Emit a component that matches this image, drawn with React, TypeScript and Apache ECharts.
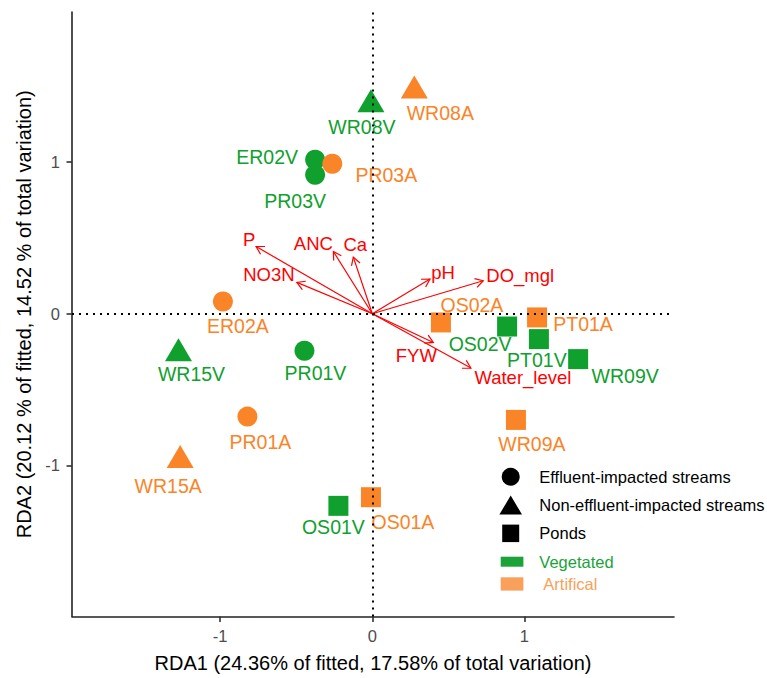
import React, { useEffect, useRef } from "react";
import * as echarts from "echarts";

// ---- Site scores ----
const sites = ["WR08V", "WR08A", "ER02V", "PR03V", "PR03A", "ER02A", "WR15V", "PR01V", "OS02A", "OS02V", "PT01A", "PT01V", "WR09V", "PR01A", "WR15A", "OS01V", "OS01A", "WR09A"];
const rda1 = [-0.009, 0.276, -0.376, -0.376, -0.263, -0.982, -1.274, -0.446, 0.451, 0.886, 1.083, 1.095, 1.353, -0.821, -1.263, -0.223, -0.009, 0.944];
const rda2 = [1.406, 1.496, 1.017, 0.917, 0.99, 0.081, -0.238, -0.244, -0.057, -0.084, -0.024, -0.167, -0.299, -0.678, -0.942, -1.267, -1.21, -0.7];
const habitat = [
  "Non-effluent-impacted streams", "Non-effluent-impacted streams", "Effluent-impacted streams", "Effluent-impacted streams",
  "Effluent-impacted streams", "Effluent-impacted streams", "Non-effluent-impacted streams", "Effluent-impacted streams",
  "Ponds", "Ponds", "Ponds", "Ponds", "Ponds", "Effluent-impacted streams", "Non-effluent-impacted streams",
  "Ponds", "Ponds", "Ponds",
];
const treatment = ["Vegetated", "Artifical", "Vegetated", "Vegetated", "Artifical", "Artifical", "Vegetated", "Vegetated", "Artifical", "Vegetated", "Artifical", "Vegetated", "Vegetated", "Artifical", "Artifical", "Vegetated", "Artifical", "Artifical"];

// ---- Environmental vectors ----
const envVars = ["P", "NO3N", "ANC", "Ca", "pH", "DO_mgl", "FYW", "Water_level"];
const envRDA1 = [-0.764, -0.496, -0.256, -0.125, 0.379, 0.729, 0.401, 0.648];
const envRDA2 = [0.444, 0.207, 0.411, 0.374, 0.229, 0.218, -0.189, -0.358];

// ---- Axes ----
const xTicks = [-1, 0, 1];
const yTicks = [-1, 0, 1];
const xTitle = "RDA1 (24.36% of fitted, 17.58% of total variation)";
const yTitle = "RDA2 (20.12 % of fitted, 14.52 % of total variation)";
const legendShapes = ["Effluent-impacted streams", "Non-effluent-impacted streams", "Ponds"];
const legendGroups = ["Vegetated", "Artifical"];

// ---- Styling / layout ----
const FONT = "'Liberation Sans', Arial, Helvetica, sans-serif";
const GREEN = "#0fa02e";
const ORANGE = "#fa8428";
const ARROW = "#ff0000";
const colorOf: Record<string, string> = { Vegetated: GREEN, Artifical: ORANGE };
const symbolOf: Record<string, string> = {
  "Effluent-impacted streams": "circle",
  "Non-effluent-impacted streams": "triangle",
  Ponds: "rect",
};
const sizeOf: Record<string, number | number[]> = { circle: 20, triangle: [27, 23], rect: 20 };

const siteLabelOffset: Record<string, [number, number]> = {
  WR08V: [-9, 26], WR08A: [26, 26], ER02V: [-48, -3], PR03V: [-20, 26], PR03A: [54, 11],
  ER02A: [15, 24], WR15V: [13, 24], PR01V: [11, 22], OS02A: [31, -17], OS02V: [-27, 17],
  PT01A: [46, 7], PT01V: [-2, 21], WR09V: [47, 17], PR01A: [13, 25], WR15A: [-12, 29],
  OS01V: [-5, 21], OS01A: [32, 25], WR09A: [16, 24],
};
const envLabelOffset: Record<string, [number, number]> = {
  P: [-7, -7], NO3N: [-28, -8], ANC: [-20, -8], Ca: [2, -13], pH: [13, -7],
  DO_mgl: [37, -5], FYW: [-17, 13], Water_level: [52, 9],
};

export default function App() {
  const ref = useRef<HTMLDivElement>(null);
  useEffect(() => {
    if (!ref.current) return;
    const chart = echarts.init(ref.current, undefined, { renderer: "svg" });

    const siteData = sites.map((s, i) => {
      const sym = symbolOf[habitat[i]];
      const col = colorOf[treatment[i]];
      return {
        name: s,
        value: [rda1[i], rda2[i]],
        symbol: sym,
        symbolSize: sizeOf[sym],
        itemStyle: { color: col, opacity: 1 },
        label: { color: col, offset: siteLabelOffset[s] },
      };
    });

    const axisCommon = {
      type: "value" as const,
      splitLine: { show: false },
      axisLine: { show: true, onZero: false, lineStyle: { color: "#222", width: 1.6 } },
      axisTick: { show: true, length: 5.5, lineStyle: { color: "#333", width: 1.6 } },
      nameLocation: "middle" as const,
      nameTextStyle: { fontSize: 20, color: "#000", fontFamily: FONT },
    };

    const legendGraphics: any[] = [];
    const lx = 510.7;
    const rows = [476.7, 505, 533.3];
    legendGraphics.push({ type: "circle", shape: { cx: lx, cy: rows[0], r: 9 }, style: { fill: "#000" } });
    legendGraphics.push({
      type: "polygon",
      shape: { points: [[lx - 11.3, rows[1] + 9.5], [lx + 11.3, rows[1] + 9.5], [lx, rows[1] - 9.5]] },
      style: { fill: "#000" },
    });
    legendGraphics.push({ type: "rect", shape: { x: lx - 8.5, y: rows[2] - 8.7, width: 17, height: 17.5 }, style: { fill: "#000" } });
    legendShapes.forEach((t, i) => {
      legendGraphics.push({
        type: "text", x: 539.3, y: rows[i],
        style: { text: t, fill: "#000", fontSize: 16.5, fontFamily: FONT, verticalAlign: "middle", align: "left" },
      });
    });
    legendGraphics.push({ type: "rect", shape: { x: 500.7, y: 556.7, width: 22.7, height: 10 }, style: { fill: "#1ba33a" } });
    legendGraphics.push({ type: "rect", shape: { x: 500.7, y: 577.3, width: 22.7, height: 13.3 }, style: { fill: "#f9a05a" } });
    legendGraphics.push({
      type: "text", x: 539.3, y: 561.5,
      style: { text: legendGroups[0], fill: "#1ba33a", fontSize: 16.5, fontFamily: FONT, verticalAlign: "middle" },
    });
    legendGraphics.push({
      type: "text", x: 543.3, y: 584,
      style: { text: legendGroups[1], fill: "#f9a05a", fontSize: 16.5, fontFamily: FONT, verticalAlign: "middle" },
    });

    chart.setOption({
      animation: false,
      backgroundColor: "#fff",
      grid: { left: 72, right: 93, top: 12, bottom: 61.5, containLabel: false },
      xAxis: {
        ...axisCommon,
        min: -1.974,
        max: 1.983,
        name: xTitle,
        nameGap: 36,
        axisTick: { ...axisCommon.axisTick, customValues: xTicks },
        axisLabel: { customValues: xTicks, fontSize: 16.5, color: "#4d4d4d", fontFamily: FONT, margin: 11 },
      },
      yAxis: {
        ...axisCommon,
        min: -1.997,
        max: 1.991,
        name: yTitle,
        nameGap: 38,
        axisTick: { ...axisCommon.axisTick, customValues: yTicks },
        axisLabel: { customValues: yTicks, fontSize: 16.5, color: "#4d4d4d", fontFamily: FONT, margin: 12 },
      },
      graphic: legendGraphics,
      series: [
        {
          type: "scatter",
          data: siteData,
          z: 2,
          itemStyle: { opacity: 1 },
          label: {
            show: true,
            position: "inside",
            formatter: "{b}",
            fontSize: 19.5,
            fontFamily: FONT,
            align: "center",
            verticalAlign: "middle",
          },
          emphasis: { disabled: true },
        },
        {
          type: "custom",
          z: 3,
          clip: false,
          data: envVars.map((n, i) => [envRDA1[i], envRDA2[i]]),
          renderItem: (params: any, api: any) => {
            const o = api.coord([0, 0]);
            const t = api.coord([api.value(0), api.value(1)]);
            const ang = Math.atan2(t[1] - o[1], t[0] - o[0]);
            const L = 9;
            const a = Math.PI / 6;
            const p1 = [t[0] - L * Math.cos(ang - a), t[1] - L * Math.sin(ang - a)];
            const p2 = [t[0] - L * Math.cos(ang + a), t[1] - L * Math.sin(ang + a)];
            const name = envVars[params.dataIndex];
            const off = envLabelOffset[name];
            return {
              type: "group",
              children: [
                { type: "line", shape: { x1: o[0], y1: o[1], x2: t[0], y2: t[1] }, style: { stroke: ARROW, lineWidth: 1.2 } },
                { type: "polyline", shape: { points: [p1, t, p2] }, style: { stroke: ARROW, fill: "none", lineWidth: 1.2 } },
                {
                  type: "text",
                  x: t[0] + off[0],
                  y: t[1] + off[1],
                  style: { text: name, fill: ARROW, fontSize: 18.5, fontFamily: FONT, align: "center", verticalAlign: "middle" },
                },
              ],
            };
          },
        },
        {
          type: "line",
          data: [],
          z: 5,
          markLine: {
            silent: true,
            symbol: ["none", "none"],
            label: { show: false },
            lineStyle: { color: "#000", type: [2, 5], width: 2 },
            data: [{ xAxis: 0 }, { yAxis: 0 }],
          },
        },
      ],
    });
    return () => chart.dispose();
  }, []);
  return <div ref={ref} style={{ position: "fixed", left: 0, top: 0, width: 767, height: 678, background: "#fff" }} />;
}
